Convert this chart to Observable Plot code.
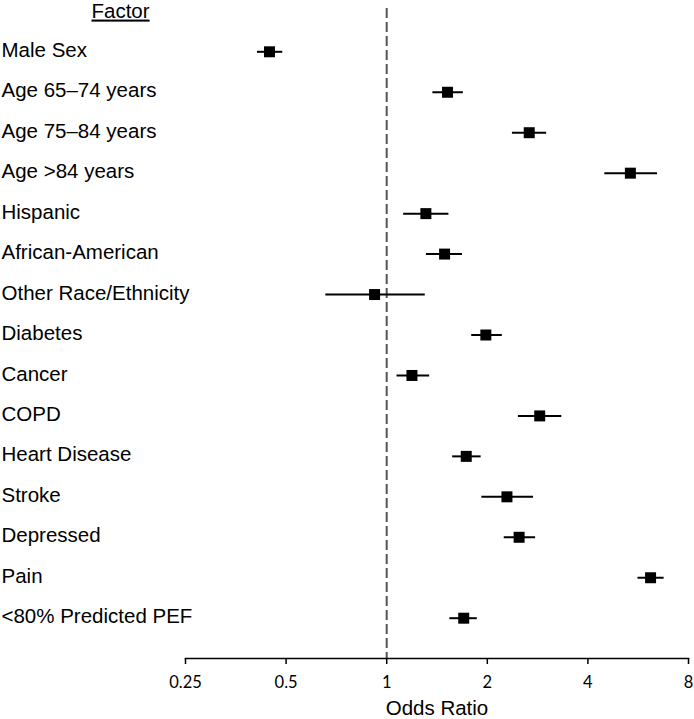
<!DOCTYPE html>
<html>
<head>
<meta charset="utf-8">
<script src="https://cdn.jsdelivr.net/npm/d3@7"></script>
<script src="https://cdn.jsdelivr.net/npm/@observablehq/plot@0.6"></script>
<style>
  body { margin: 0; background: #fff; }
</style>
</head>
<body>
<div id="chart"></div>
<script>
const factors = [
  "Male Sex", "Age 65\u201374 years", "Age 75\u201384 years", "Age >84 years",
  "Hispanic", "African-American", "Other Race/Ethnicity", "Diabetes",
  "Cancer", "COPD", "Heart Disease", "Stroke", "Depressed", "Pain",
  "<80% Predicted PEF"
];
const oddsRatio = [0.446, 1.52, 2.67, 5.36, 1.31, 1.49, 0.92, 1.98, 1.19, 2.87, 1.73, 2.29, 2.49, 6.16, 1.70];
const ciLow     = [0.409, 1.37, 2.37, 4.48, 1.12, 1.31, 0.655, 1.79, 1.07, 2.47, 1.57, 1.92, 2.24, 5.63, 1.54];
const ciHigh    = [0.487, 1.69, 3.00, 6.44, 1.53, 1.68, 1.30, 2.21, 1.34, 3.33, 1.91, 2.74, 2.78, 6.74, 1.86];
const xTicks = [0.25, 0.5, 1, 2, 4, 8];
const xTickLabels = ["0.25", "0.5", "1", "2", "4", "8"];
const xLabel = "Odds Ratio";
const header = "Factor";

const data = factors.map((f, i) => ({factor: f, or: oddsRatio[i], lo: ciLow[i], hi: ciHigh[i]}));
const tickData = xTicks.map((t, i) => ({value: t, label: xTickLabels[i]}));

const chart = Plot.plot({
  width: 694,
  height: 719,
  marginLeft: 185,
  marginRight: 6,
  marginTop: 8,
  marginBottom: 61,
  style: {fontFamily: "'Liberation Sans', Arial, sans-serif", fontSize: "20px", color: "black", background: "white"},
  x: {type: "log", domain: [0.25, 8], axis: null},
  y: {type: "point", padding: 0, round: false, domain: factors, range: [51.3, 617.7], axis: null},
  marks: [
    Plot.ruleX([1], {stroke: "#555", strokeWidth: 2, strokeDasharray: "10,4"}),
    Plot.frame({anchor: "bottom", stroke: "black", strokeWidth: 1.5}),
    Plot.axisX({ticks: xTicks, tickSize: 6, tickFormat: () => "", strokeWidth: 1.5, label: null}),
    Plot.text(tickData, {x: "value", text: "label", frameAnchor: "bottom", textAnchor: "middle",
      lineAnchor: "middle", dy: 24, fontSize: 16.5, fontFamily: "Lato, 'Open Sans', sans-serif", fill: "black"}),
    Plot.link(data, {x1: "lo", x2: "hi", y1: "factor", y2: "factor", stroke: "black", strokeWidth: 2}),
    Plot.dot(data, {x: "or", y: "factor", symbol: "square", r: 6.2, fill: "black", stroke: null}),
    Plot.text(data, {y: "factor", text: "factor", frameAnchor: "left", textAnchor: "start",
      lineAnchor: "middle", dx: -184, dy: -1.5, fontSize: 20.5, fill: "black"}),
    Plot.text([header], {frameAnchor: "top-left", textAnchor: "middle", lineAnchor: "middle",
      dx: -65, dy: 2.5, fontSize: 20.5, fill: "black"}),
    Plot.text([xLabel], {frameAnchor: "bottom", textAnchor: "middle", lineAnchor: "middle",
      dy: 50, fontSize: 20.5, fill: "black"})
  ]
});

d3.select(chart).selectAll("text").filter(function() { return this.textContent === header; })
  .attr("text-decoration", "underline");

document.getElementById("chart").appendChild(chart);
</script>
</body>
</html>
